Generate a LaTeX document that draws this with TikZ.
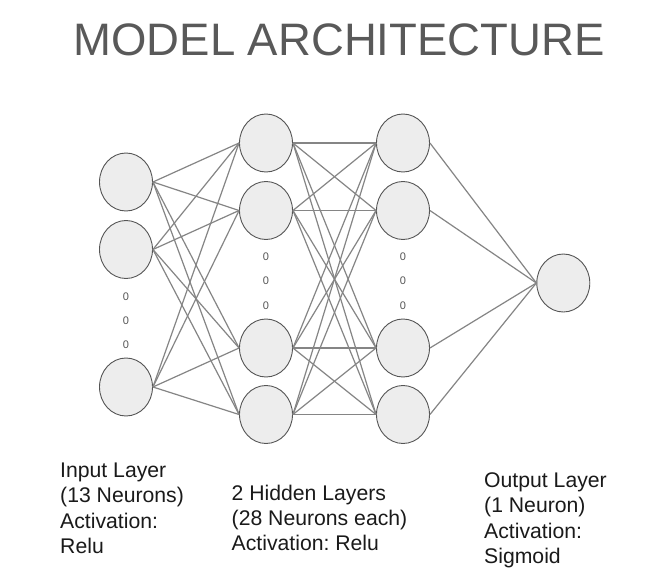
\documentclass[tikz,border=0pt]{standalone}
\usepackage{fontspec}
\setmainfont{Liberation Sans}
\usetikzlibrary{shapes.geometric}
\definecolor{titlegray}{HTML}{595959}
\definecolor{edgegray}{HTML}{858585}
\definecolor{ringgray}{HTML}{555555}
\definecolor{fillgray}{HTML}{EDEDED}
\definecolor{labelink}{HTML}{1A1A1A}
\begin{document}
\frenchspacing
\begin{tikzpicture}[x=1pt,y=-1pt,
  neuron/.style={ellipse,draw=ringgray,fill=fillgray,line width=0.9pt,minimum width=53pt,minimum height=58pt,inner sep=0pt},
  link/.style={draw=edgegray,line width=1.2pt},
  ell/.style={font=\fontsize{11}{12}\selectfont,text=ringgray,inner sep=0pt},
  lbl/.style={anchor=base west,align=left,inner sep=0pt,text=labelink,font=\fontsize{21.2}{25.2}\selectfont},
  ttl/.style={anchor=base,inner sep=0pt,text=titlegray,font=\fontsize{45.5}{50}\selectfont}]
\useasboundingbox (0,0) rectangle (649,587);
\fill[white] (0,0) rectangle (649,587);

\node[ttl] (title) at (339,55) {MODEL ARCHITECTURE};

% input layer
\node[neuron] (i1) at (126,182) {};
\node[neuron] (i2) at (126,249.5) {};
\node[neuron] (i3) at (126,387) {};
% hidden layer 1
\node[neuron] (a1) at (266,143) {};
\node[neuron] (a2) at (266,210.5) {};
\node[neuron] (a3) at (266,348) {};
\node[neuron] (a4) at (266,414.5) {};
% hidden layer 2
\node[neuron] (b1) at (403,143) {};
\node[neuron] (b2) at (403,210.5) {};
\node[neuron] (b3) at (403,348) {};
\node[neuron] (b4) at (403,414.5) {};
% output
\node[neuron] (o1) at (563.3,283) {};

% ellipsis marks
\node[ell] (di1) at (126,296.5) {0};
\node[ell] (di2) at (126,320.5) {0};
\node[ell] (di3) at (126,345) {0};
\node[ell] (da1) at (266,257) {0};
\node[ell] (da2) at (266,281) {0};
\node[ell] (da3) at (266,305.5) {0};
\node[ell] (db1) at (403,257) {0};
\node[ell] (db2) at (403,281) {0};
\node[ell] (db3) at (403,305.5) {0};

% connectors
\foreach \s in {i1,i2,i3}
  \foreach \t in {a1,a2,a3,a4}
    \draw[link] (\s.east) -- (\t.west);
\foreach \s in {a1,a2,a3,a4}
  \foreach \t in {b1,b2,b3,b4}
    \draw[link] (\s.east) -- (\t.west);
\foreach \s in {b1,b2,b3,b4}
  \draw[link] (\s.east) -- (o1.west);

% labels (base anchor = baseline of last line)
\node[lbl] (linput) at (60,553.3) {Input Layer\\(13 Neurons)\\Activation:\\Relu};
\node[lbl] (lhidden) at (231.5,550.7) {2 Hidden Layers\\(28 Neurons each)\\Activation: Relu};
\node[lbl] (loutput) at (484,563.3) {Output Layer\\(1 Neuron)\\Activation:\\Sigmoid};
\end{tikzpicture}
\end{document}
